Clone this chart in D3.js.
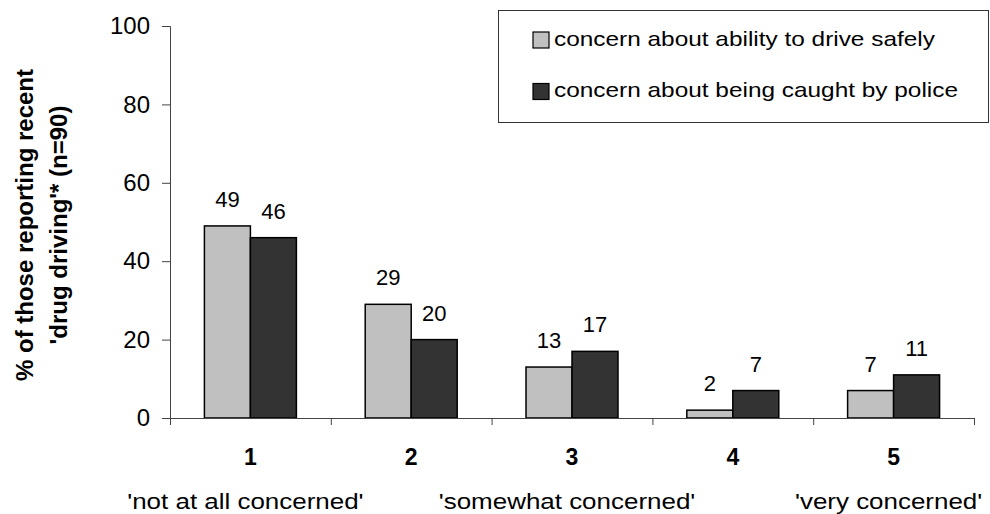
<!DOCTYPE html>
<html>
<head>
<meta charset="utf-8">
<script src="https://cdn.jsdelivr.net/npm/d3@7/dist/d3.min.js"></script>
<style>
  html, body { margin: 0; padding: 0; background: #fff; }
  svg { display: block; font-family: "Liberation Sans", Arial, sans-serif; }
</style>
</head>
<body>
<svg id="chart" width="990" height="514"></svg>
<script>
// Concern ratings (1 = not at all concerned ... 5 = very concerned)
const categories = ["1", "2", "3", "4", "5"];
const seriesNames = [
  "concern about ability to drive safely",
  "concern about being caught by police"
];
const safetyValues = [49, 29, 13, 2, 7];
const policeValues = [46, 20, 17, 7, 11];
const yTicks = [0, 20, 40, 60, 80, 100];
const scaleNotes = [
  { cat: "1", text: "'not at all concerned'" },
  { cat: "3", text: "'somewhat concerned'" },
  { cat: "5", text: "'very concerned'" }
];
const yTitleLines = ["% of those reporting recent", "'drug driving'* (n=90)"];

const seriesFill = ["#c0c0c0", "#333333"];
const rows = categories.map((c, i) => ({ cat: c, values: [safetyValues[i], policeValues[i]] }));

const svg = d3.select("#chart");
const plotLeft = 170, plotRight = 974, plotTop = 26, plotBottom = 418;

const y = d3.scaleLinear().domain([0, 100]).range([plotBottom, plotTop]);
const x0 = d3.scaleBand().domain(categories).range([plotLeft, plotRight])
  .paddingInner(0.428).paddingOuter(0.214);
const x1 = d3.scaleBand().domain([0, 1]).range([0, x0.bandwidth()]);
const edges = d3.scaleLinear().domain([0, categories.length]).range([plotLeft, plotRight]);

// bars
const groups = svg.append("g").selectAll("g").data(rows).join("g")
  .attr("transform", d => `translate(${x0(d.cat)},0)`);

groups.selectAll("rect").data(d => d.values.map((v, k) => ({ v, k }))).join("rect")
  .attr("x", d => x1(d.k))
  .attr("y", d => y(d.v))
  .attr("width", x1.bandwidth())
  .attr("height", d => y(0) - y(d.v))
  .attr("fill", d => seriesFill[d.k])
  .attr("stroke", "#000")
  .attr("stroke-width", 1.5);

groups.selectAll("text").data(d => d.values.map((v, k) => ({ v, k }))).join("text")
  .attr("x", d => x1(d.k) + x1.bandwidth() / 2)
  .attr("y", d => y(d.v) - 19)
  .attr("text-anchor", "middle")
  .attr("font-size", 22)
  .attr("fill", "#000")
  .text(d => d.v);

// y axis
const yAxis = svg.append("g").attr("transform", `translate(${plotLeft},0)`)
  .call(d3.axisLeft(y).tickValues(yTicks).tickSize(8).tickPadding(12));
yAxis.selectAll("text").attr("font-size", 24).attr("fill", "#000")
  .attr("font-family", "'Liberation Sans', Arial, sans-serif");
yAxis.selectAll("line, path").attr("stroke", "#444");

// x axis: category boundaries
const xAxis = svg.append("g").attr("transform", `translate(0,${plotBottom})`)
  .call(d3.axisBottom(edges).tickValues(d3.range(categories.length + 1)).tickSize(7).tickFormat(""));
xAxis.selectAll("line, path").attr("stroke", "#444");

// category numbers
svg.append("g").selectAll("text").data(categories).join("text")
  .attr("x", d => x0(d) + x0.bandwidth() / 2)
  .attr("y", 465)
  .attr("text-anchor", "middle")
  .attr("font-size", 23)
  .attr("font-weight", "bold")
  .text(d => d);

// verbal anchors under the scale
svg.append("g").selectAll("g").data(scaleNotes).join("g")
  .attr("transform", d => `translate(${x0(d.cat) + x0.bandwidth() / 2 - 5},509)`)
  .append("text")
  .attr("transform", "scale(1.18,1)")
  .attr("text-anchor", "middle")
  .attr("font-size", 22)
  .text(d => d.text);

// y title
svg.append("g").selectAll("text").data(yTitleLines).join("text")
  .attr("transform", (d, i) => `translate(${33 + i * 34},225) rotate(-90)`)
  .attr("text-anchor", "middle")
  .attr("font-size", 24)
  .attr("font-weight", "bold")
  .text(d => d);

// legend
const legend = svg.append("g");
legend.append("rect")
  .attr("x", 498.5).attr("y", 10.5).attr("width", 490).attr("height", 112)
  .attr("fill", "#fff").attr("stroke", "#333").attr("stroke-width", 1);
const items = legend.selectAll("g.item").data(seriesNames).join("g")
  .attr("class", "item")
  .attr("transform", (d, i) => `translate(533,${32 + i * 51.5})`);
items.append("rect")
  .attr("width", 16).attr("height", 16)
  .attr("fill", (d, i) => seriesFill[i])
  .attr("stroke", "#000").attr("stroke-width", 1.2);
items.append("text")
  .attr("transform", "translate(21,13.5) scale(1.22,1)")
  .attr("font-size", 20)
  .text(d => d);
</script>
</body>
</html>
